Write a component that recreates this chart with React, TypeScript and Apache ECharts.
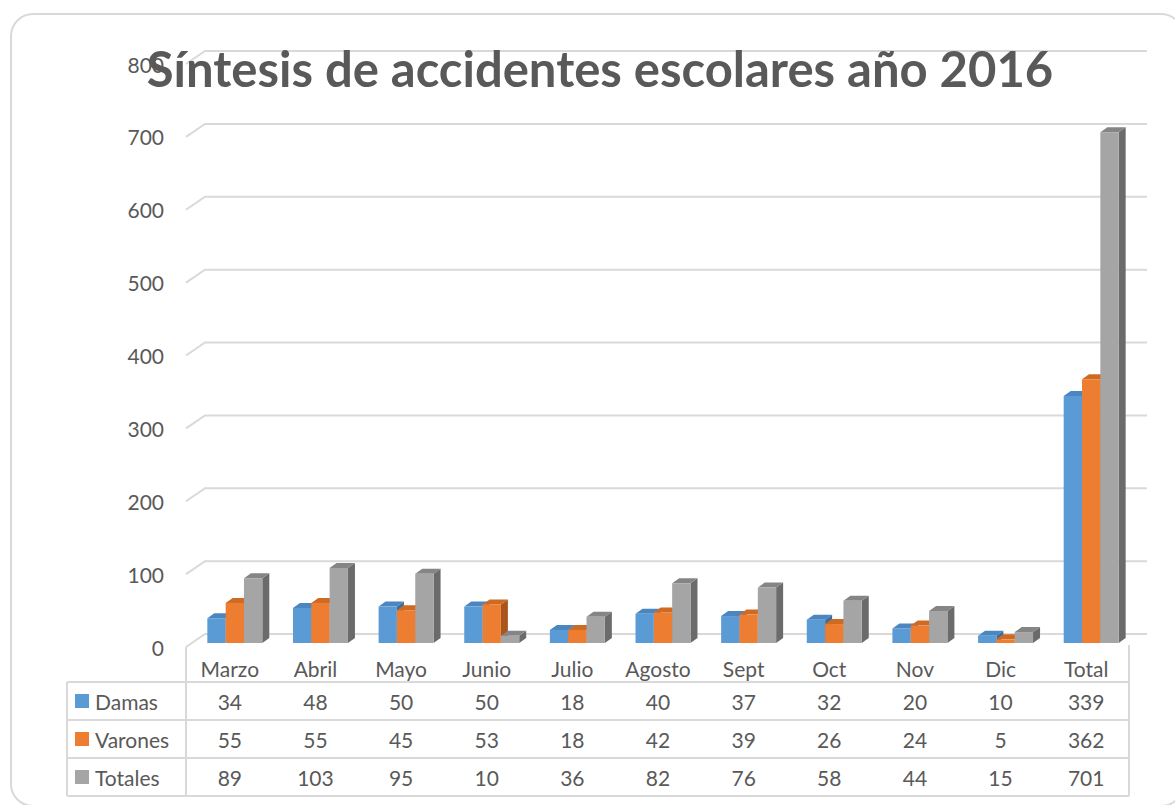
import React, { useEffect, useRef } from "react";
import * as echarts from "echarts";

const categories = ["Marzo", "Abril", "Mayo", "Junio", "Julio", "Agosto", "Sept", "Oct", "Nov", "Dic", "Total"];
const damas = [34, 48, 50, 50, 18, 40, 37, 32, 20, 10, 339];
const varones = [55, 55, 45, 53, 18, 42, 39, 26, 24, 5, 362];
const totales = [89, 103, 95, 10, 36, 82, 76, 58, 44, 15, 701];
const seriesNames = ["Damas", "Varones", "Totales"];
const gridValues = [0, 100, 200, 300, 400, 500, 600, 700, 800];
const titleText = "Síntesis de accidentes escolares año 2016";

const FONT = "Lato, 'Open Sans', sans-serif";
const FS = 21;
const TXT = "#595959";
const LINE = "#d9d9d9";
const front = ["#5B9BD5", "#ED7D31", "#A5A5A5"];
const topC = ["#4A86C0", "#CF6A25", "#858585"];
const sideC = ["#3F6E9A", "#A9551C", "#6B6B6B"];

const WALL_DX = 18;
const WALL_DY = -13;
const BAR_OX = 5;
const BAR_OY = -4;
const BAR_DX = 7;
const BAR_DY = -5;

const GRID_LEFT = 187;
const GRID_RIGHT = 46;
const GRID_TOP = 64;
const GRID_BOTTOM = 158;

const allSeries = [damas, varones, totales];

export default function App() {
  const ref = useRef<HTMLDivElement>(null);
  useEffect(() => {
    if (!ref.current) return;
    const chart = echarts.init(ref.current, undefined, { renderer: "svg" });

    const barSeries = allSeries.map((vals, s) => ({
      type: "custom",
      name: seriesNames[s],
      z: 5 + s,
      clip: false,
      encode: { x: 0, y: 1 },
      data: vals.map((v, i) => [i, v]),
      renderItem: (params: any, api: any) => {
        const i = api.value(0);
        const v = api.value(1);
        const base = api.coord([i, 0]);
        const top = api.coord([i, v]);
        const band = api.size([1, 0])[0];
        const bw = band * 0.214;
        const x0 = base[0] - 1.5 * bw + s * bw + BAR_OX;
        const y0 = base[1] + BAR_OY;
        const yt = top[1] + BAR_OY;
        return {
          type: "group",
          children: [
            {
              type: "polygon",
              shape: {
                points: [
                  [x0 + bw, yt],
                  [x0 + bw + BAR_DX, yt + BAR_DY],
                  [x0 + bw + BAR_DX, y0 + BAR_DY],
                  [x0 + bw, y0],
                ],
              },
              style: { fill: sideC[s] },
            },
            {
              type: "polygon",
              shape: {
                points: [
                  [x0, yt],
                  [x0 + BAR_DX, yt + BAR_DY],
                  [x0 + bw + BAR_DX, yt + BAR_DY],
                  [x0 + bw, yt],
                ],
              },
              style: { fill: topC[s] },
            },
            {
              type: "rect",
              shape: { x: x0, y: yt, width: bw, height: y0 - yt },
              style: { fill: front[s] },
            },
          ],
        };
      },
    }));

    const wallSeries = {
      type: "custom",
      z: 1,
      clip: false,
      silent: true,
      encode: { x: 0, y: 1 },
      data: gridValues.map((v) => [0, v]),
      renderItem: (params: any, api: any) => {
        const cs = params.coordSys;
        const y = api.coord([0, api.value(1)])[1];
        return {
          type: "polyline",
          shape: {
            points: [
              [cs.x - 1, y],
              [cs.x + WALL_DX, y + WALL_DY],
              [cs.x + cs.width + WALL_DX, y + WALL_DY],
            ],
          },
          style: { stroke: LINE, lineWidth: 2, fill: null },
        };
      },
    };

    const rowOffsets = [54, 92, 130];
    const tableSeries = {
      type: "custom",
      z: 3,
      clip: false,
      silent: true,
      encode: { x: 0, y: 1 },
      data: categories.map((c, i) => [i, 0]),
      renderItem: (params: any, api: any) => {
        const i = api.value(0);
        const p = api.coord([i, 0]);
        const cs = params.coordSys;
        const bottom = cs.y + cs.height;
        return {
          type: "group",
          children: allSeries.map((vals, r) => ({
            type: "text",
            x: p[0],
            y: bottom + rowOffsets[r],
            style: {
              text: String(vals[i]),
              fill: TXT,
              fontSize: FS,
              fontFamily: FONT,
              align: "center",
              verticalAlign: "middle",
              textAlign: "center",
              textVerticalAlign: "middle",
            },
          })),
        };
      },
    };

    const W = 1175;
    const tableLeft = 67;
    const tableRight = W - GRID_RIGHT;
    const floorY = 805 - GRID_BOTTOM;
    const rowLines = [682, 720, 758, 796];
    const graphics: any[] = [
      {
        type: "rect",
        z: 0,
        shape: { x: 11, y: 14, width: 1172, height: 792, r: 22 },
        style: { fill: "#fff", stroke: LINE, lineWidth: 2 },
      },
      ...rowLines.map((y) => ({
        type: "line",
        shape: { x1: tableLeft, y1: y, x2: tableRight, y2: y },
        style: { stroke: LINE, lineWidth: 2 },
      })),
      {
        type: "line",
        shape: { x1: tableLeft, y1: rowLines[0], x2: tableLeft, y2: rowLines[3] },
        style: { stroke: LINE, lineWidth: 2 },
      },
      {
        type: "line",
        shape: { x1: GRID_LEFT - 1, y1: floorY, x2: GRID_LEFT - 1, y2: rowLines[3] },
        style: { stroke: LINE, lineWidth: 2 },
      },
      {
        type: "line",
        shape: { x1: tableRight, y1: floorY - 2, x2: tableRight, y2: rowLines[3] },
        style: { stroke: LINE, lineWidth: 2 },
      },
      ...seriesNames.map((n, r) => ({
        type: "group",
        children: [
          {
            type: "rect",
            shape: { x: 75, y: (rowLines[r] + rowLines[r + 1]) / 2 - 7, width: 14, height: 14 },
            style: { fill: front[r] },
          },
          {
            type: "text",
            x: 95,
            y: (rowLines[r] + rowLines[r + 1]) / 2,
            style: {
              text: n,
              fill: TXT,
              fontSize: FS,
              fontFamily: FONT,
              textAlign: "left",
              textVerticalAlign: "middle",
            },
          },
        ],
      })),
      {
        type: "text",
        z: 100,
        x: 600,
        y: 68,
        style: {
          text: titleText,
          fill: TXT,
          fontSize: 49,
          fontWeight: "bold",
          fontFamily: FONT,
          textAlign: "center",
          textVerticalAlign: "middle",
        },
      },
    ];

    chart.setOption({
      animation: false,
      backgroundColor: "#ffffff",
      grid: { left: GRID_LEFT, right: GRID_RIGHT, top: GRID_TOP, bottom: GRID_BOTTOM },
      xAxis: {
        type: "category",
        data: categories,
        boundaryGap: true,
        axisLine: { show: false },
        axisTick: { show: false },
        axisLabel: { color: TXT, fontSize: FS, fontFamily: FONT, margin: 11 },
      },
      yAxis: {
        type: "value",
        min: 0,
        max: 800,
        interval: 100,
        axisLine: { show: false },
        axisTick: { show: false },
        splitLine: { show: false },
        axisLabel: { color: TXT, fontSize: FS, fontFamily: FONT, margin: 23 },
      },
      graphic: graphics,
      series: [wallSeries, tableSeries, ...barSeries],
    });
    return () => chart.dispose();
  }, []);
  return (
    <div
      ref={ref}
      style={{ position: "fixed", left: 0, top: 0, width: 1175, height: 805, background: "#fff" }}
    />
  );
}
